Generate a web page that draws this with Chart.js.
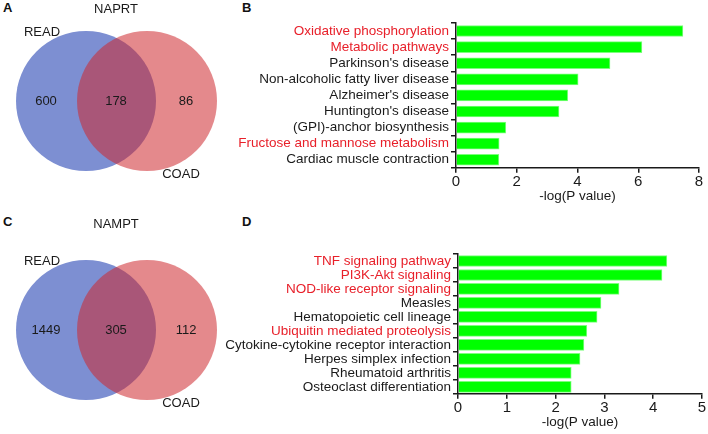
<!DOCTYPE html>
<html>
<head>
<meta charset="utf-8">
<script src="https://cdn.jsdelivr.net/npm/chart.js@4/dist/chart.umd.min.js"></script>
<style>
  body { margin: 0; background: #fff; width: 708px; height: 434px; position: relative; overflow: hidden; font-family: "Liberation Sans", Arial, sans-serif; }
  canvas { position: absolute; }
  .tag { position: absolute; font-weight: bold; font-size: 13px; color: #111; }
</style>
</head>
<body>
<div class="tag" style="left:3px;top:0px">A</div>
<div class="tag" style="left:242px;top:0px">B</div>
<div class="tag" style="left:3px;top:214px">C</div>
<div class="tag" style="left:242px;top:214px">D</div>

<canvas id="vennA" width="235" height="215" style="left:0;top:0"></canvas>
<canvas id="vennC" width="235" height="219" style="left:0;top:215px"></canvas>
<canvas id="barB" width="470" height="210" style="left:238px;top:0"></canvas>
<canvas id="barD" width="490" height="219" style="left:218px;top:215px"></canvas>

<script>
// Venn counts: [READ only, both, COAD only]
const naprtCounts = [600, 178, 86];
const namptCounts = [1449, 305, 112];

// KEGG enrichment for NAPRT (panel B)
const naprtPathways = [
    "Oxidative phosphorylation",
    "Metabolic pathways",
    "Parkinson's disease",
    "Non-alcoholic fatty liver disease",
    "Alzheimer's disease",
    "Huntington's disease",
    "(GPI)-anchor biosynthesis",
    "Fructose and mannose metabolism",
    "Cardiac muscle contraction"
];
const naprtValues = [7.47, 6.12, 5.07, 4.02, 3.68, 3.39, 1.64, 1.42, 1.41];
const naprtHighlight = [0, 1, 7];
const naprtTicks = [0, 2, 4, 6, 8];

// KEGG enrichment for NAMPT (panel D)
const namptPathways = [
    "TNF signaling pathway",
    "PI3K-Akt signaling",
    "NOD-like receptor signaling",
    "Measles",
    "Hematopoietic cell lineage",
    "Ubiquitin mediated proteolysis",
    "Cytokine-cytokine receptor interaction",
    "Herpes simplex infection",
    "Rheumatoid arthritis",
    "Osteoclast differentiation"
];
const namptValues = [4.28, 4.18, 3.30, 2.93, 2.85, 2.64, 2.58, 2.50, 2.32, 2.32];
const namptHighlight = [0, 1, 2, 5];
const namptTicks = [0, 1, 2, 3, 4, 5];

const FONT = '"Liberation Sans", Arial, sans-serif';
const INK = '#1a1a1a';
const RED = '#e8202a';

// draws the venn texts at data coordinates
const vennText = {
    id: 'vennText',
    afterDatasetsDraw(chart) {
        const o = chart.options.plugins.vennText;
        const xs = chart.scales.x, ys = chart.scales.y;
        const c = chart.ctx;
        c.save();
        c.font = '13px ' + FONT;
        c.fillStyle = INK;
        c.textAlign = 'center';
        c.textBaseline = 'middle';
        o.items.forEach(it => {
            c.fillText(it.text, xs.getPixelForValue(it.x), ys.getPixelForValue(it.y));
        });
        c.restore();
    }
};

function makeVenn(id, title, counts, dy, h) {
    const cy = 101 + dy;
    new Chart(document.getElementById(id), {
        type: 'bubble',
        data: {
            datasets: [
                { data: [{ x: 147, y: cy, r: 70 }], backgroundColor: 'rgba(205,40,45,0.55)', borderWidth: 0 },
                { data: [{ x: 86, y: cy, r: 70 }], backgroundColor: 'rgb(125,143,210)', borderWidth: 0 }
            ]
        },
        options: {
            responsive: false,
            animation: false,
            events: [],
            layout: { padding: 0, autoPadding: false },
            clip: false,
            scales: {
                x: { display: false, min: 0, max: 235 },
                y: { display: false, min: 0, max: h, reverse: true }
            },
            plugins: {
                legend: { display: false },
                tooltip: { enabled: false },
                vennText: {
                    items: [
                        { text: title, x: 116, y: 9 },
                        { text: 'READ', x: 42, y: 32 + dy },
                        { text: 'COAD', x: 181, y: 174 + dy },
                        { text: String(counts[0]), x: 46, y: cy },
                        { text: String(counts[1]), x: 116, y: cy },
                        { text: String(counts[2]), x: 186, y: cy }
                    ]
                }
            }
        },
        plugins: [vennText]
    });
}

function makeBars(id, labels, values, highlight, ticks, axisWidth, pad) {
    new Chart(document.getElementById(id), {
        type: 'bar',
        data: {
            labels: labels,
            datasets: [{
                data: values,
                backgroundColor: '#00ff00',
                borderColor: '#7dff7d',
                borderWidth: 1,
                barThickness: 11
            }]
        },
        options: {
            indexAxis: 'y',
            responsive: false,
            animation: false,
            events: [],
            layout: { padding: pad },
            plugins: { legend: { display: false }, tooltip: { enabled: false } },
            scales: {
                x: {
                    min: ticks[0],
                    max: ticks[ticks.length - 1],
                    afterBuildTicks(s) { s.ticks = ticks.map(v => ({ value: v })); },
                    ticks: { color: INK, font: { family: FONT, size: 15 }, padding: 0 },
                    grid: { drawOnChartArea: false, tickLength: 5, color: INK, lineWidth: 1.5 },
                    border: { color: INK, width: 1.5 },
                    title: { display: true, text: '-log(P value)', color: INK, font: { family: FONT, size: 13.5 }, padding: { top: -3, bottom: 0 } }
                },
                y: {
                    afterFit(s) { s.width = axisWidth; },
                    ticks: {
                        color: c => highlight.includes(c.index) ? RED : INK,
                        font: { family: FONT, size: 13.5 },
                        padding: 2,
                        autoSkip: false
                    },
                    grid: { drawOnChartArea: false, tickLength: 5, color: INK, lineWidth: 1.5 },
                    border: { color: INK, width: 1.5 }
                }
            }
        }
    });
}

makeVenn('vennA', 'NAPRT', naprtCounts, 0, 215);
makeVenn('vennC', 'NAMPT', namptCounts, 14, 219);
makeBars('barB', naprtPathways, naprtValues, naprtHighlight, naprtTicks, 218, { top: 23, right: 9, bottom: 6 });
makeBars('barD', namptPathways, namptValues, namptHighlight, namptTicks, 240, { top: 39, right: 6, bottom: 4 });
</script>
</body>
</html>
